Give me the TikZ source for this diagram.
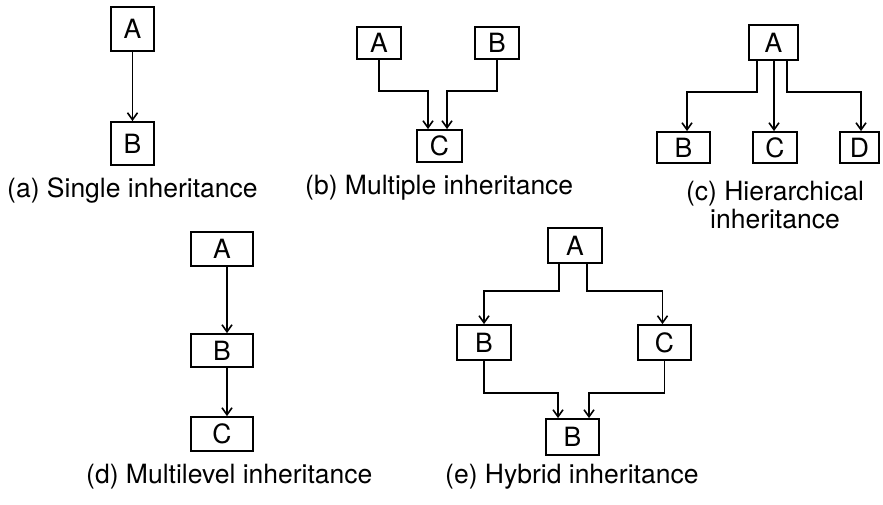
\documentclass[tikz,border=0pt]{standalone}
\usepackage{fontspec}
\setmainfont{TeX Gyre Heros}
\usetikzlibrary{arrows.meta}
\begin{document}
\begin{tikzpicture}[x=1pt,y=-1pt,
  box/.style={draw,line width=1.8pt,inner sep=0pt,font=\fontsize{26.5}{30}\selectfont},
  captxt/.style={inner sep=0pt,font=\fontsize{26.5}{30}\selectfont},
  arr/.style={line width=1.8pt,-{Straight Barb[length=7pt,width=10pt,line width=1.6pt]}}]
\useasboundingbox (0,0) rectangle (883,504);
% (a)
\node[box,minimum width=43pt,minimum height=44pt] (aA) at (132.5,29) {A};
\node[box,minimum width=43pt,minimum height=43pt] (aB) at (132.5,143.5) {B};
\draw[arr] (aA.south) -- (aB.north);
\node[captxt,anchor=base west] (capa) at (7,197) {(a) Single inheritance};
% (b)
\node[box,minimum width=44pt,minimum height=32pt] (bA) at (379,43) {A};
\node[box,minimum width=44pt,minimum height=32pt] (bB) at (497,43) {B};
\node[box,minimum width=45pt,minimum height=32pt] (bC) at (439.5,146) {C};
\draw[arr] (bA.south) -- ++(0,31) -| ([xshift=-11.5pt]bC.north);
\draw[arr] (bB.south) -- ++(0,31) -| ([xshift=7.5pt]bC.north);
\node[captxt,anchor=base west] (capb) at (305,194) {(b) Multiple inheritance};
% (c)
\node[box,minimum width=49pt,minimum height=35pt] (cA) at (773.5,42.5) {A};
\node[box,minimum width=53pt,minimum height=31pt] (cB) at (683.5,147.5) {B};
\node[box,minimum width=44pt,minimum height=31pt] (cC) at (775,147.5) {C};
\node[box,minimum width=39pt,minimum height=31pt] (cD) at (859.5,147.5) {D};
\draw[arr] ([xshift=-16.5pt]cA.south) -- ++(0,31) -| ([xshift=3.5pt]cB.north);
\draw[arr] ([xshift=0.5pt]cA.south) -- ([xshift=-1pt]cC.north);
\draw[arr] ([xshift=13.5pt]cA.south) -- ++(0,31) -| ([xshift=1.5pt]cD.north);
\node[captxt,anchor=base] (capc1) at (775,200) {(c) Hierarchical};
\node[captxt,anchor=base] (capc2) at (775,228) {inheritance};
% (d)
\node[box,minimum width=62pt,minimum height=34pt] (dA) at (222,249) {A};
\node[box,minimum width=62pt,minimum height=33pt] (dB) at (222,350.5) {B};
\node[box,minimum width=62pt,minimum height=34pt] (dC) at (222,434) {C};
\draw[arr] ([xshift=5pt]dA.south) -- ([xshift=5pt]dB.north);
\draw[arr] ([xshift=5pt]dB.south) -- ([xshift=5pt]dC.north);
\node[captxt,anchor=base west] (capd) at (86,483) {(d) Multilevel inheritance};
% (e)
\node[box,minimum width=54pt,minimum height=35pt] (eA) at (575,245.5) {A};
\node[box,minimum width=54pt,minimum height=35pt] (eB) at (484,342.5) {B};
\node[box,minimum width=53pt,minimum height=35pt] (eC) at (664.5,342.5) {C};
\node[box,minimum width=53pt,minimum height=36pt] (eD) at (572.5,437) {B};
\draw[arr] ([xshift=-16pt]eA.south) -- ++(0,27) -| (eB.north);
\draw[arr] ([xshift=12pt]eA.south) -- ++(0,27) -| ([xshift=-2pt]eC.north);
\draw[arr] (eB.south) -- ++(0,32) -| ([xshift=-14.5pt]eD.north);
\draw[arr] (eC.south) -- ++(0,32) -| ([xshift=16.5pt]eD.north);
\node[captxt,anchor=base west] (cape) at (445,483) {(e) Hybrid inheritance};
\end{tikzpicture}
\end{document}
